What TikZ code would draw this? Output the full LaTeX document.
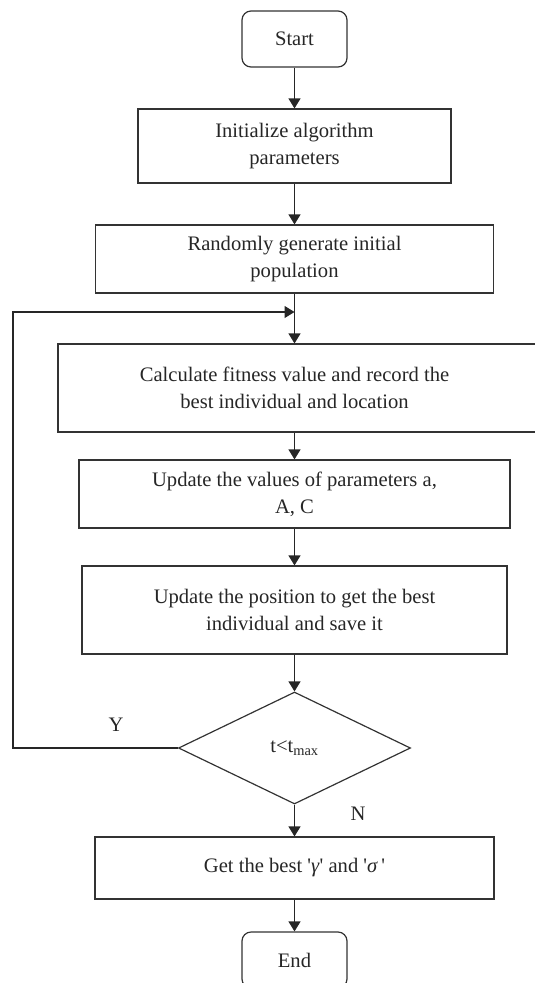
\documentclass[tikz,border=0pt]{standalone}
\usepackage{fontspec}
\setmainfont{Liberation Serif}
\usetikzlibrary{arrows.meta,shapes.geometric}
\begin{document}
\begin{tikzpicture}[x=1pt,y=-1pt,
  txt/.style={font=\fontsize{20.6}{27}\selectfont, text=black!85, align=center},
  box/.style={txt, draw=black!80, line width=1.2pt, rectangle, inner sep=0pt},
  term/.style={box, rounded corners=9pt},
  arr/.style={draw=black!85, line width=1.2pt, -{Triangle[length=10pt,width=12pt]}},
  lab/.style={font=\fontsize{20.6}{25}\selectfont, text=black!85}]
\useasboundingbox (0,0) rectangle (535,983);
\node[term, minimum width=105pt, minimum height=56pt] (start) at (294.5,39) {Start};
\node[box, minimum width=313pt, minimum height=74pt] (init) at (294.5,146) {Initialize algorithm\\parameters};
\node[box, minimum width=398pt, minimum height=68pt] (rand) at (294.5,259) {Randomly generate initial\\population};
\node[box, minimum width=482pt, minimum height=88pt] (calc) at (299,388) {};
\node[txt] (calctext) at (294.5,388) {Calculate fitness value and record the\\best individual and location};
\node[box, minimum width=431pt, minimum height=68pt] (upd) at (294.5,494) {Update the values of parameters a,\\A, C};
\node[box, minimum width=425pt, minimum height=88pt] (pos) at (294.5,610) {Update the position to get the best\\individual and save it};
\node[draw=black!80, line width=1.2pt, diamond, minimum width=232pt, minimum height=112pt, inner sep=0pt, txt] (dec) at (294.5,748) {t<t\textsubscript{max}};
\node[box, minimum width=399pt, minimum height=62pt] (get) at (294.5,868) {Get the best \textquotesingle\textit{γ}\textquotesingle{} and \textquotesingle\textit{σ}\,\textquotesingle};
\node[term, minimum width=105pt, minimum height=56pt] (end) at (294.5,960) {End};
\coordinate (loopin) at (294.5,312);
\coordinate (loopcorner) at (13,748);
\node[lab] (ylab) at (116,725) {Y};
\node[lab] (nlab) at (358,814) {N};
\draw[arr] (start.south) -- (init.north);
\draw[arr] (init.south) -- (rand.north);
\draw[arr] (rand.south) -- (calctext.center |- calc.north);
\draw[arr] (calctext.center |- calc.south) -- (upd.north);
\draw[arr] (upd.south) -- (pos.north);
\draw[arr] (pos.south) -- (dec.north);
\draw[arr] (dec.south) -- (get.north);
\draw[arr] (get.south) -- (end.north);
\draw[arr] (dec.west) -- (loopcorner) |- (loopin);
\end{tikzpicture}
\end{document}
